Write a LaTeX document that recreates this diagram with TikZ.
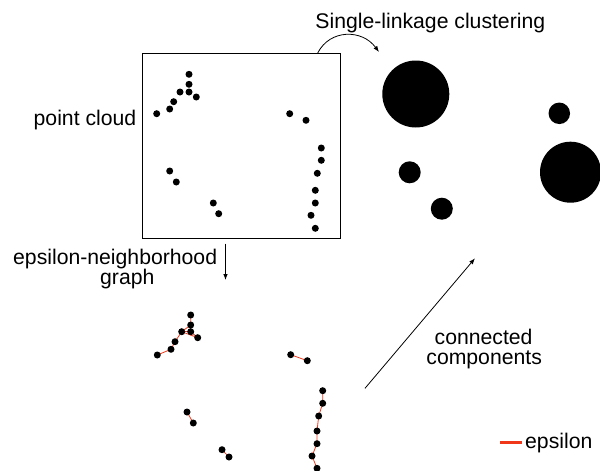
\documentclass[tikz,border=0pt]{standalone}
\usepackage{fontspec}
\setmainfont{Liberation Sans}
\usetikzlibrary{arrows.meta}
\definecolor{epsred}{RGB}{240,55,25}
\tikzset{
  pt/.style={circle, fill=black, inner sep=0pt, minimum size=7pt},
  blob/.style={circle, fill=black, inner sep=0pt},
  lbl/.style={font=\fontsize{21.2}{20}\selectfont, inner sep=0pt, anchor=base west, text=black},
  epsedge/.style={draw=epsred, line width=0.8pt},
  arr/.style={-{Latex[length=6pt,width=4.5pt]}, line width=0.8pt},
}
\begin{document}
\begin{tikzpicture}[x=1pt,y=-1pt]
\useasboundingbox (0,0) rectangle (600,471);
% point cloud box
\node (box) [draw, line width=0.8pt, inner sep=0pt, minimum width=198pt, minimum height=185pt] at (241,145.5) {};
% point cloud
\node (c1) [pt] at (189,74.3) {};
\node (c2) [pt] at (189,84.3) {};
\node (c3) [pt] at (180,92) {};
\node (c4) [pt] at (189,92) {};
\node (c5) [pt] at (196.3,97) {};
\node (c6) [pt] at (173.7,101.7) {};
\node (c7) [pt] at (169.7,109) {};
\node (c8) [pt] at (156.7,113.7) {};
\node (c9) [pt] at (289.7,113.7) {};
\node (c10) [pt] at (306,120.3) {};
\node (c11) [pt] at (321.3,148) {};
\node (c12) [pt] at (321.3,160.3) {};
\node (c13) [pt] at (317.3,173.3) {};
\node (c14) [pt] at (315.3,190.3) {};
\node (c15) [pt] at (315.3,203) {};
\node (c16) [pt] at (311,215.3) {};
\node (c17) [pt] at (315.3,228.3) {};
\node (c18) [pt] at (169.7,171) {};
\node (c19) [pt] at (176.3,182) {};
\node (c20) [pt] at (213.3,203) {};
\node (c21) [pt] at (218.7,213.7) {};
% labels
\node (lpc) [lbl] at (33.5,125) {point cloud};
\node (lsl) [lbl] at (315.2,28.3) {Single-linkage clustering};
\node (leps1) [lbl] at (13,264.3) {epsilon-neighborhood};
\node (leps2) [lbl] at (100,284.3) {graph};
\node (lcc1) [lbl] at (434.5,344.3) {connected};
\node (lcc2) [lbl] at (426.2,364.3) {components};
% clusters
\node (k1) [blob, minimum size=67pt] at (415.8,94) {};
\node (k2) [blob, minimum size=21.5pt] at (559.3,113.3) {};
\node (k3) [blob, minimum size=22pt] at (409.7,172.3) {};
\node (k4) [blob, minimum size=22pt] at (441.8,208.7) {};
\node (k5) [blob, minimum size=61pt] at (570.5,172.2) {};
% graph edges
\coordinate (g1) at (190.7,315);
\coordinate (g2) at (190.7,325);
\coordinate (g3) at (181.7,331.7);
\coordinate (g4) at (190.7,331.7);
\coordinate (g5) at (197.7,337.7);
\coordinate (g6) at (175,341.7);
\coordinate (g7) at (171,349.3);
\coordinate (g8) at (157.3,355);
\coordinate (g9) at (290.7,354.7);
\coordinate (g10) at (307.3,360.7);
\coordinate (g11) at (322.7,390.7);
\coordinate (g12) at (322.7,403.3);
\coordinate (g13) at (318.7,416);
\coordinate (g14) at (317,431);
\coordinate (g15) at (317,443.7);
\coordinate (g16) at (312,456);
\coordinate (g17) at (317,468.3);
\coordinate (g18) at (187,412);
\coordinate (g19) at (193.3,423);
\coordinate (g20) at (222,449.7);
\coordinate (g21) at (229,457);
\draw[epsedge] (g1) -- (g2) -- (g4) -- (g5) -- (g3) -- (g2);
\draw[epsedge] (g3) -- (g4);
\draw[epsedge] (g3) -- (g6) -- (g7) -- (g8);
\draw[epsedge] (g9) -- (g10);
\draw[epsedge] (g11) -- (g12) -- (g13) -- (g14) -- (g15) -- (g16) -- (g17);
\draw[epsedge] (g18) -- (g19);
\draw[epsedge] (g20) -- (g21);
\foreach \i in {1,...,21} { \node (n\i) [pt] at (g\i) {}; }
% arrows
\coordinate (cs) at (317.7,53);
\coordinate (ce) at (379,52);
\draw[arr] (cs) .. controls (330,29) and (362,29) .. (ce);
\coordinate (ds) at (225.5,243.5);
\coordinate (de) at (225.5,280);
\draw[arr] (ds) -- (de);
\coordinate (as) at (365,388.3);
\coordinate (ae) at (475,258.3);
\draw[arr] (as) -- (ae);
% legend
\coordinate (ls) at (500,442.7);
\coordinate (le) at (521.7,442.7);
\draw[draw=epsred, line width=2.5pt] (ls) -- (le);
\node (leps) [lbl] at (525,448.3) {epsilon};
\end{tikzpicture}
\end{document}
